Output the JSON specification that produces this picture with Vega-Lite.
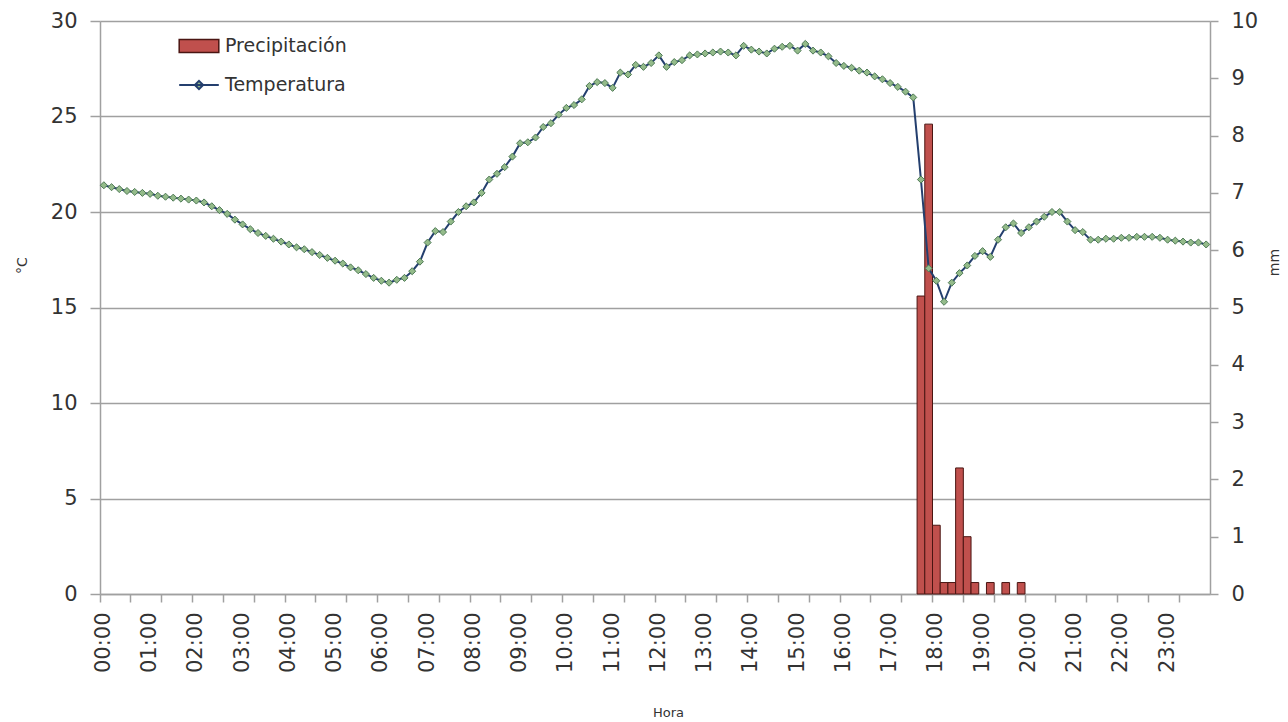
{
  "$schema": "https://vega.github.io/schema/vega-lite/v6.json",
  "width": 1110,
  "height": 573,
  "autosize": {"type": "none"},
  "padding": {"left": 100, "top": 21, "right": 78, "bottom": 128},
  "background": "white",
  "config": {
    "view": {"stroke": null},
    "font": "DejaVu Sans",
    "axis": {"labelColor": "#333333", "titleColor": "#333333", "titleFontWeight": "normal", "labelFont": "DejaVu Sans", "titleFont": "DejaVu Sans"}
  },
  "data": {
    "values": [
      {"hora": "00:00", "temp": 21.4}, {"hora": "00:10", "temp": 21.3}, {"hora": "00:20", "temp": 21.2}, {"hora": "00:30", "temp": 21.1}, {"hora": "00:40", "temp": 21.05}, {"hora": "00:50", "temp": 21.0},
      {"hora": "01:00", "temp": 20.95}, {"hora": "01:10", "temp": 20.85}, {"hora": "01:20", "temp": 20.8}, {"hora": "01:30", "temp": 20.75}, {"hora": "01:40", "temp": 20.7}, {"hora": "01:50", "temp": 20.65},
      {"hora": "02:00", "temp": 20.6}, {"hora": "02:10", "temp": 20.5}, {"hora": "02:20", "temp": 20.3}, {"hora": "02:30", "temp": 20.1}, {"hora": "02:40", "temp": 19.9}, {"hora": "02:50", "temp": 19.6},
      {"hora": "03:00", "temp": 19.35}, {"hora": "03:10", "temp": 19.1}, {"hora": "03:20", "temp": 18.9}, {"hora": "03:30", "temp": 18.75}, {"hora": "03:40", "temp": 18.6}, {"hora": "03:50", "temp": 18.45},
      {"hora": "04:00", "temp": 18.3}, {"hora": "04:10", "temp": 18.15}, {"hora": "04:20", "temp": 18.05}, {"hora": "04:30", "temp": 17.9}, {"hora": "04:40", "temp": 17.75}, {"hora": "04:50", "temp": 17.6},
      {"hora": "05:00", "temp": 17.45}, {"hora": "05:10", "temp": 17.3}, {"hora": "05:20", "temp": 17.1}, {"hora": "05:30", "temp": 16.95}, {"hora": "05:40", "temp": 16.75}, {"hora": "05:50", "temp": 16.55},
      {"hora": "06:00", "temp": 16.4}, {"hora": "06:10", "temp": 16.3}, {"hora": "06:20", "temp": 16.45}, {"hora": "06:30", "temp": 16.55}, {"hora": "06:40", "temp": 16.9}, {"hora": "06:50", "temp": 17.4},
      {"hora": "07:00", "temp": 18.4}, {"hora": "07:10", "temp": 19.0}, {"hora": "07:20", "temp": 18.95}, {"hora": "07:30", "temp": 19.5}, {"hora": "07:40", "temp": 20.0}, {"hora": "07:50", "temp": 20.3},
      {"hora": "08:00", "temp": 20.5}, {"hora": "08:10", "temp": 21.0}, {"hora": "08:20", "temp": 21.7}, {"hora": "08:30", "temp": 22.0}, {"hora": "08:40", "temp": 22.35}, {"hora": "08:50", "temp": 22.9},
      {"hora": "09:00", "temp": 23.6}, {"hora": "09:10", "temp": 23.65}, {"hora": "09:20", "temp": 23.9}, {"hora": "09:30", "temp": 24.45}, {"hora": "09:40", "temp": 24.65}, {"hora": "09:50", "temp": 25.1},
      {"hora": "10:00", "temp": 25.45}, {"hora": "10:10", "temp": 25.6}, {"hora": "10:20", "temp": 25.9}, {"hora": "10:30", "temp": 26.6}, {"hora": "10:40", "temp": 26.8}, {"hora": "10:50", "temp": 26.75},
      {"hora": "11:00", "temp": 26.5}, {"hora": "11:10", "temp": 27.3}, {"hora": "11:20", "temp": 27.2}, {"hora": "11:30", "temp": 27.7}, {"hora": "11:40", "temp": 27.6}, {"hora": "11:50", "temp": 27.8},
      {"hora": "12:00", "temp": 28.2}, {"hora": "12:10", "temp": 27.6}, {"hora": "12:20", "temp": 27.85}, {"hora": "12:30", "temp": 27.95}, {"hora": "12:40", "temp": 28.2}, {"hora": "12:50", "temp": 28.25},
      {"hora": "13:00", "temp": 28.3}, {"hora": "13:10", "temp": 28.35}, {"hora": "13:20", "temp": 28.4}, {"hora": "13:30", "temp": 28.35}, {"hora": "13:40", "temp": 28.2}, {"hora": "13:50", "temp": 28.7},
      {"hora": "14:00", "temp": 28.5}, {"hora": "14:10", "temp": 28.4}, {"hora": "14:20", "temp": 28.3}, {"hora": "14:30", "temp": 28.55}, {"hora": "14:40", "temp": 28.65}, {"hora": "14:50", "temp": 28.7},
      {"hora": "15:00", "temp": 28.45}, {"hora": "15:10", "temp": 28.8}, {"hora": "15:20", "temp": 28.45}, {"hora": "15:30", "temp": 28.35}, {"hora": "15:40", "temp": 28.15}, {"hora": "15:50", "temp": 27.8},
      {"hora": "16:00", "temp": 27.65}, {"hora": "16:10", "temp": 27.55}, {"hora": "16:20", "temp": 27.4}, {"hora": "16:30", "temp": 27.3}, {"hora": "16:40", "temp": 27.1}, {"hora": "16:50", "temp": 26.95},
      {"hora": "17:00", "temp": 26.75}, {"hora": "17:10", "temp": 26.55}, {"hora": "17:20", "temp": 26.3}, {"hora": "17:30", "temp": 26.0}, {"hora": "17:40", "temp": 21.7, "precip": 5.2}, {"hora": "17:50", "temp": 17.05, "precip": 8.2},
      {"hora": "18:00", "temp": 16.4, "precip": 1.2}, {"hora": "18:10", "temp": 15.3, "precip": 0.2}, {"hora": "18:20", "temp": 16.3, "precip": 0.2}, {"hora": "18:30", "temp": 16.8, "precip": 2.2}, {"hora": "18:40", "temp": 17.2, "precip": 1.0}, {"hora": "18:50", "temp": 17.7, "precip": 0.2},
      {"hora": "19:00", "temp": 17.95}, {"hora": "19:10", "temp": 17.65, "precip": 0.2}, {"hora": "19:20", "temp": 18.55}, {"hora": "19:30", "temp": 19.2, "precip": 0.2}, {"hora": "19:40", "temp": 19.4}, {"hora": "19:50", "temp": 18.9, "precip": 0.2},
      {"hora": "20:00", "temp": 19.2}, {"hora": "20:10", "temp": 19.5}, {"hora": "20:20", "temp": 19.75}, {"hora": "20:30", "temp": 20.0}, {"hora": "20:40", "temp": 20.0}, {"hora": "20:50", "temp": 19.5},
      {"hora": "21:00", "temp": 19.05}, {"hora": "21:10", "temp": 18.95}, {"hora": "21:20", "temp": 18.55}, {"hora": "21:30", "temp": 18.55}, {"hora": "21:40", "temp": 18.6}, {"hora": "21:50", "temp": 18.6},
      {"hora": "22:00", "temp": 18.65}, {"hora": "22:10", "temp": 18.65}, {"hora": "22:20", "temp": 18.7}, {"hora": "22:30", "temp": 18.7}, {"hora": "22:40", "temp": 18.7}, {"hora": "22:50", "temp": 18.65},
      {"hora": "23:00", "temp": 18.55}, {"hora": "23:10", "temp": 18.5}, {"hora": "23:20", "temp": 18.45}, {"hora": "23:30", "temp": 18.4}, {"hora": "23:40", "temp": 18.4}, {"hora": "23:50", "temp": 18.3}
    ]
  },
  "layer": [
    {
      "transform": [{"filter": "datum.precip > 0"}],
      "mark": {"type": "bar", "stroke": "#4a1512", "strokeWidth": 1},
      "encoding": {
        "x": {
          "field": "hora", "type": "ordinal",
          "scale": {"type": "band", "paddingInner": 0, "paddingOuter": 0},
          "axis": {
            "orient": "bottom",
            "values": ["00:00","01:00","02:00","03:00","04:00","05:00","06:00","07:00","08:00","09:00","10:00","11:00","12:00","13:00","14:00","15:00","16:00","17:00","18:00","19:00","20:00","21:00","22:00","23:00"],
            "labelAngle": 270, "labelFontSize": 21, "labelPadding": 18,
            "ticks": false, "tickSize": 0, "domain": false, "grid": false,
            "title": "Hora", "titleFontSize": 13, "titlePadding": 34, "titleX": 568
          }
        },
        "y": {
          "field": "precip", "type": "quantitative",
          "scale": {"domain": [0, 10]},
          "axis": {
            "orient": "right", "values": [0,1,2,3,4,5,6,7,8,9,10], "grid": false,
            "domainColor": "#A0A0A0", "domainWidth": 1.5, "tickColor": "#A0A0A0", "tickWidth": 1.5, "tickSize": 8,
            "labelFontSize": 21, "labelPadding": 13,
            "title": "mm", "titleFontSize": 14, "titleAngle": 270, "titleBaseline": "top", "titlePadding": 10, "titleY": 241
          }
        },
        "color": {
          "datum": "Precipitación",
          "scale": {"domain": ["Precipitación"], "range": ["#C0504D"]},
          "legend": {
            "orient": "none", "legendX": 81.5, "legendY": 7.5, "title": null, "padding": 0,
            "symbolSize": 1089, "symbolType": "M-1.2,-0.4H1.2V0.4H-1.2Z",
            "symbolStrokeColor": "#4a1512", "symbolStrokeWidth": 1.5, "symbolOpacity": 1,
            "labelOffset": 8.5, "labelFont": "DejaVu Sans", "labelFontSize": 19, "labelColor": "#333333"
          }
        }
      }
    },
    {
      "mark": {"type": "line", "strokeWidth": 2},
      "encoding": {
        "x": {
          "field": "hora", "type": "ordinal",
          "scale": {"type": "band", "paddingInner": 0, "paddingOuter": 0},
          "axis": {
            "orient": "bottom",
            "values": ["00:00","00:40","01:20","02:00","02:40","03:20","04:00","04:40","05:20","06:00","06:40","07:20","08:00","08:40","09:20","10:00","10:40","11:20","12:00","12:40","13:20","14:00","14:40","15:20","16:00","16:40","17:20","18:00","18:40","19:20","20:00","20:40","21:20","22:00","22:40","23:20"],
            "bandPosition": 0, "labels": false, "ticks": true, "tickSize": 8, "tickColor": "#A0A0A0", "tickWidth": 1.5,
            "domain": true, "domainColor": "#A0A0A0", "domainWidth": 1.5, "grid": false, "title": null
          }
        },
        "y": {
          "field": "temp", "type": "quantitative",
          "scale": {"domain": [0, 30]},
          "axis": {
            "orient": "left", "values": [0,5,10,15,20,25,30],
            "grid": true, "gridColor": "#A0A0A0", "gridWidth": 1.5,
            "domainColor": "#A0A0A0", "domainWidth": 1.5, "tickColor": "#A0A0A0", "tickWidth": 1.5, "tickSize": 10,
            "labelFontSize": 21, "labelPadding": 13,
            "title": "°C", "titleFontSize": 14, "titlePadding": 21, "titleY": 244
          }
        },
        "stroke": {
          "datum": "Temperatura",
          "scale": {"domain": ["Temperatura"], "range": ["#243F6E"]},
          "legend": {
            "orient": "none", "legendX": 81.5, "legendY": 46.5, "title": null, "padding": 0,
            "symbolSize": 1089, "symbolType": "M-1.2,0H1.2M0,-0.25L0.25,0L0,0.25L-0.25,0Z",
            "symbolFillColor": "#94BB8A", "symbolStrokeWidth": 2, "symbolOpacity": 1,
            "labelOffset": 8.5, "labelFont": "DejaVu Sans", "labelFontSize": 19, "labelColor": "#333333"
          }
        }
      }
    },
    {
      "mark": {"type": "point", "shape": "diamond", "filled": true, "fill": "#94BB8A", "stroke": "#4E7A55", "strokeWidth": 1, "size": 50, "opacity": 1},
      "encoding": {
        "x": {"field": "hora", "type": "ordinal", "scale": {"type": "band", "paddingInner": 0, "paddingOuter": 0}, "axis": null},
        "y": {"field": "temp", "type": "quantitative", "scale": {"domain": [0, 30]}, "axis": null}
      }
    }
  ],
  "resolve": {"scale": {"y": "independent"}, "axis": {"x": "independent", "y": "independent"}}
}
